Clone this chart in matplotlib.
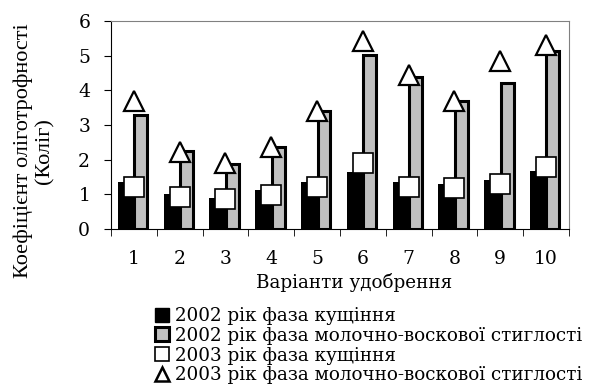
import numpy as np
import matplotlib
matplotlib.use("Agg")
import matplotlib.pyplot as plt
from matplotlib.lines import Line2D

# the reference is Times stretched sideways; DejaVu Serif is wide enough to match
plt.rcParams['font.family'] = ['DejaVu Serif']

variants = [1, 2, 3, 4, 5, 6, 7, 8, 9, 10]
til_2002 = [1.35, 1.0, 0.88, 1.12, 1.35, 1.63, 1.35, 1.3, 1.41, 1.68]
milk_2002 = [3.28, 2.26, 1.86, 2.36, 3.41, 5.03, 4.38, 3.7, 4.22, 5.13]
til_2003 = [1.21, 0.92, 0.87, 0.98, 1.21, 1.9, 1.21, 1.17, 1.3, 1.8]
milk_2003 = [3.7, 2.22, 1.9, 2.37, 3.39, 5.42, 4.44, 3.69, 4.85, 5.31]
labels = ['2002 рік фаза кущіння',
          '2002 рік фаза молочно-воскової стиглості',
          '2003 рік фаза кущіння',
          '2003 рік фаза молочно-воскової стиглості']

x = np.array(variants)
fig = plt.figure(figsize=(5.92, 3.9), dpi=100)
ax = fig.add_axes([0.1875, 0.413, 0.7735, 0.533])

ax.bar(x - 0.17, til_2002, width=0.36, color='black', zorder=2)
ax.bar(x + 0.15, milk_2002, width=0.28, color='#c0c0c0', edgecolor='black',
       linewidth=2.2, zorder=3)
ax.plot(x, til_2003, 's', ms=14, mfc='white', mec='black', mew=1.2,
        zorder=4, clip_on=False)
ax.plot(x, milk_2003, '^', ms=14, mfc='white', mec='black', mew=1.6,
        zorder=4, clip_on=False)

ax.set_xlim(0.5, 10.5)
ax.set_ylim(0, 6)
ax.set_yticks(range(7))
ax.set_xticks(x)
ax.set_xticks(np.arange(0.5, 11, 1), minor=True)
ax.tick_params(axis='x', which='major', length=0, pad=15, labelsize=13.5)
ax.tick_params(axis='x', which='minor', length=5, direction='out')
ax.tick_params(axis='y', length=5, direction='out', pad=10, labelsize=13.5)
for s in ['top', 'right']:
    ax.spines[s].set_color('#808080')
ax.set_xlabel('Варіанти удобрення', fontsize=13.2)
ax.xaxis.set_label_coords(0.53, -0.21)

fig.text(0.057, 0.613, 'Коефіцієнт оліготрофності\n(Коліг)', rotation=90,
         ha='center', va='center', fontsize=16, multialignment='center',
         linespacing=1.15, family='Liberation Serif')

handles = [
    Line2D([], [], ls='none', marker='s', ms=10.5, mfc='black', mec='black'),
    Line2D([], [], ls='none', marker='s', ms=9.5, mfc='#c0c0c0', mec='black', mew=2.2),
    Line2D([], [], ls='none', marker='s', ms=9.5, mfc='white', mec='black', mew=1.2),
    Line2D([], [], ls='none', marker='^', ms=10, mfc='white', mec='black', mew=1.8),
]
fig.legend(handles, labels, loc='upper left', bbox_to_anchor=(0.26, 0.213),
           frameon=False, fontsize=13.2, handlelength=0.9, handletextpad=0.25,
           labelspacing=0.1, borderpad=0, borderaxespad=0)

fig.savefig('out.png', dpi=100)
